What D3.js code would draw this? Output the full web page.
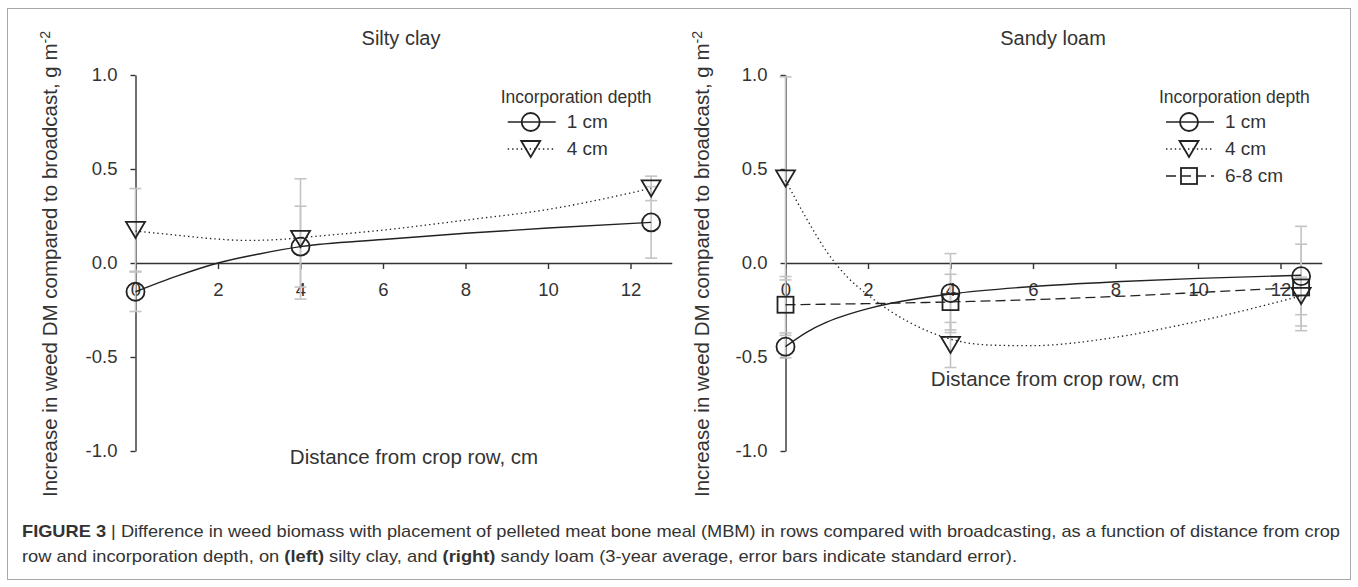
<!DOCTYPE html>
<html><head><meta charset="utf-8">
<script src="https://cdn.jsdelivr.net/npm/d3@7"></script>
<style>
body{margin:0;background:#fff}
svg text{font-family:"Liberation Sans",Arial,sans-serif;fill:#333}
</style>
</head><body>
<svg id="c" width="1358" height="587"></svg>
<script>
// ---------------- data ----------------
const xTicks = [0, 2, 4, 6, 8, 10, 12];
const yTicks = [-1.0, -0.5, 0.0, 0.5, 1.0];
const distances = [0, 4, 12.5];

// Silty clay
const siltyClay1cm   = [-0.153, 0.087, 0.216];
const siltyClay1cmSE = [0.105, 0.215, 0.19];
const siltyClay4cm   = [0.176, 0.128, 0.397];
const siltyClay4cmSE = [0.22, 0.32, 0.065];
// fitted curves
const siltyClay1cmFitX = [0, 1, 2, 3, 4, 6, 8, 10, 12.5];
const siltyClay1cmFitY = [-0.153, -0.07, 0.0, 0.048, 0.087, 0.125, 0.158, 0.186, 0.216];
const siltyClay4cmFitX = [0, 1, 2, 2.7, 3.5, 4, 6, 8, 10, 12.5];
const siltyClay4cmFitY = [0.17, 0.148, 0.127, 0.12, 0.125, 0.135, 0.175, 0.228, 0.285, 0.397];

// Sandy loam
const sandyLoam1cm    = [-0.445, -0.16, -0.07];
const sandyLoam1cmSE  = [0.06, 0.21, 0.265];
const sandyLoam4cm    = [0.45, -0.436, -0.175];
const sandyLoam4cmSE  = [0.54, 0.12, 0.1];
const sandyLoam68cm   = [-0.222, -0.208, -0.13];
const sandyLoam68cmSE = [0.15, 0.148, 0.23];
const sandyLoam1cmFitX = [0, 0.5, 1, 1.5, 2, 2.5, 3, 4, 6, 8, 10, 12.5];
const sandyLoam1cmFitY = [-0.445, -0.37, -0.315, -0.275, -0.243, -0.217, -0.197, -0.165, -0.125, -0.1, -0.082, -0.065];
const sandyLoam4cmFitX = [0, 0.5, 1, 1.5, 2, 2.5, 3, 4, 5, 6, 7, 8, 10, 12.5];
const sandyLoam4cmFitY = [0.44, 0.24, 0.06, -0.075, -0.17, -0.25, -0.315, -0.405, -0.437, -0.44, -0.425, -0.395, -0.31, -0.175];
const sandyLoam68cmFitX = [0, 2, 4, 6, 8, 10, 12.5];
const sandyLoam68cmFitY = [-0.222, -0.216, -0.207, -0.195, -0.178, -0.157, -0.13];

const legendTitle = "Incorporation depth";
const xAxisTitle = "Distance from crop row, cm";
const yAxisTitle = "Increase in weed DM compared to broadcast, g m";
const yAxisSup = "-2";

// ---------------- layout ----------------
const svg = d3.select("#c");
const INK = "#333";
const ERR = "#c4c4c4";

svg.append("rect").attr("x", 7.5).attr("y", 8.5).attr("width", 1343).attr("height", 571)
  .attr("fill", "none").attr("stroke", "#a8a8a8").attr("stroke-width", 1);

const panels = [
  { title: "Silty clay", xr: [135.5, 671.75], titleX: 401, legendX: 500.7,
    xTitleX: 414, xTitleY: 464, yTitleX: 57,
    series: [
      { name: "1 cm", vals: siltyClay1cm, se: siltyClay1cmSE, fx: siltyClay1cmFitX, fy: siltyClay1cmFitY, marker: "circle", dash: null },
      { name: "4 cm", vals: siltyClay4cm, se: siltyClay4cmSE, fx: siltyClay4cmFitX, fy: siltyClay4cmFitY, marker: "tri", dash: "1.4,3" }
    ] },
  { title: "Sandy loam", xr: [785.5, 1321.75], titleX: 1053, legendX: 1159,
    xTitleX: 1055, xTitleY: 386, yTitleX: 709,
    series: [
      { name: "1 cm", vals: sandyLoam1cm, se: sandyLoam1cmSE, fx: sandyLoam1cmFitX, fy: sandyLoam1cmFitY, marker: "circle", dash: null },
      { name: "4 cm", vals: sandyLoam4cm, se: sandyLoam4cmSE, fx: sandyLoam4cmFitX, fy: sandyLoam4cmFitY, marker: "tri", dash: "1.4,3" },
      { name: "6-8 cm", vals: sandyLoam68cm, se: sandyLoam68cmSE, fx: sandyLoam68cmFitX, fy: sandyLoam68cmFitY, marker: "square", dash: "10,5" }
    ] }
];

const y = d3.scaleLinear().domain([-1, 1]).range([451, 75]);

function drawMarker(g, type, cx, cy) {
  const common = s => s.attr("fill", "none").attr("stroke", "#222").attr("stroke-width", 1.8);
  if (type === "circle") {
    g.append("circle").attr("cx", cx).attr("cy", cy).attr("r", 9).call(common);
  } else if (type === "tri") {
    g.append("path").attr("d", `M${cx - 9.5},${cy - 8}L${cx + 9.5},${cy - 8}L${cx},${cy + 8}Z`).call(common);
  } else {
    g.append("rect").attr("x", cx - 8).attr("y", cy - 8).attr("width", 16).attr("height", 16).call(common);
  }
}

panels.forEach(p => {
  const x = d3.scaleLinear().domain([0, 13]).range(p.xr);
  const g = svg.append("g");

  // x axis on the zero line
  const xa = g.append("g").attr("transform", `translate(0,${y(0)})`)
    .call(d3.axisBottom(x).tickValues(xTicks).tickSize(6).tickPadding(14).tickSizeOuter(0).tickFormat(d3.format("d")));
  // y axis
  const ya = g.append("g").attr("transform", `translate(${x(0)},0)`)
    .call(d3.axisLeft(y).tickValues(yTicks).tickSize(5).tickPadding(13).tickSizeOuter(0).tickFormat(d => d.toFixed(1)));
  [xa, ya].forEach(a => {
    a.attr("font-size", 18.5).attr("font-family", null);
    a.selectAll("path,line").attr("stroke", INK).attr("stroke-width", 1.4);
    a.selectAll("text").attr("fill", INK);
  });

  // error bars
  const eg = g.append("g").attr("stroke", ERR).attr("stroke-width", 1.6);
  p.series.forEach(s => {
    s.vals.forEach((v, i) => {
      const cx = x(distances[i]);
      const y1 = y(v - s.se[i]), y2 = y(v + s.se[i]);
      eg.append("line").attr("x1", cx).attr("x2", cx).attr("y1", y1).attr("y2", y2);
      [y1, y2].forEach(yy => eg.append("line").attr("x1", cx - 6).attr("x2", cx + 6).attr("y1", yy).attr("y2", yy));
    });
  });

  // fitted curves
  const line = d3.line().x(d => x(d[0])).y(d => y(d[1])).curve(d3.curveMonotoneX);
  p.series.forEach(s => {
    const pts = s.fx.map((xx, i) => [xx, s.fy[i]]);
    g.append("path").attr("d", line(pts)).attr("fill", "none").attr("stroke", "#222")
      .attr("stroke-width", s.dash ? 1.3 : 1.4).attr("stroke-dasharray", s.dash);
  });

  // markers
  p.series.forEach(s => {
    s.vals.forEach((v, i) => drawMarker(g, s.marker, x(distances[i]), y(v)));
  });

  // titles
  g.append("text").attr("x", p.titleX).attr("y", 45).attr("text-anchor", "middle")
    .attr("font-size", 20).text(p.title);
  g.append("text").attr("x", p.xTitleX).attr("y", p.xTitleY).attr("text-anchor", "middle")
    .attr("font-size", 20.5).text(xAxisTitle);
  const yt = g.append("text").attr("transform", `translate(${p.yTitleX},497) rotate(-90)`)
    .attr("text-anchor", "start").attr("font-size", 20.5);
  yt.append("tspan").text(yAxisTitle);
  yt.append("tspan").attr("dy", "-0.5em").attr("font-size", 14).text(yAxisSup);

  // legend
  const lg = g.append("g");
  lg.append("text").attr("x", p.legendX).attr("y", 103).attr("font-size", 17.5).text(legendTitle);
  p.series.forEach((s, i) => {
    const sy = 122 + 27 * i;
    const sx = p.legendX + 30;
    lg.append("line").attr("x1", p.legendX + 7).attr("x2", p.legendX + 55).attr("y1", sy).attr("y2", sy)
      .attr("stroke", "#222").attr("stroke-width", s.dash ? 1.3 : 1.4).attr("stroke-dasharray", s.dash);
    drawMarker(lg, s.marker, sx, sy);
    lg.append("text").attr("x", p.legendX + 66).attr("y", 128 + 27 * i).attr("font-size", 19).text(s.name);
  });
});

// caption
function capLine(yy, parts, target) {
  const t = svg.append("text").attr("x", 22).attr("y", yy).attr("font-size", 17);
  parts.forEach(([txt, bold]) => t.append("tspan").attr("font-weight", bold ? "bold" : null).text(txt));
  t.attr("textLength", target).attr("lengthAdjust", "spacingAndGlyphs");
}
capLine(537, [["FIGURE 3", true], [" | Difference in weed biomass with placement of pelleted meat bone meal (MBM) in rows compared with broadcasting, as a function of distance from crop", false]], 1318);
capLine(562, [["row and incorporation depth, on ", false], ["(left)", true], [" silty clay, and ", false], ["(right)", true], [" sandy loam (3-year average, error bars indicate standard error).", false]], 995);
</script>
</body></html>
